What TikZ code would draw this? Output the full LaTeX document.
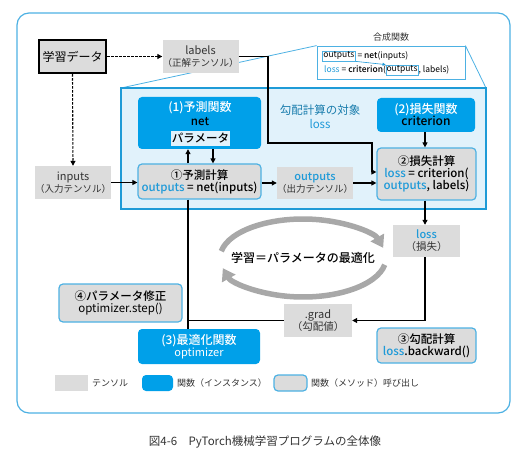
\documentclass[tikz,border=0pt]{standalone}
\usepackage{fontspec}
\setmainfont{Noto Sans CJK JP}[BoldFont={Noto Sans CJK JP Medium}]
\usetikzlibrary{arrows.meta}
\definecolor{fblue}{HTML}{00A0E9}
\definecolor{lblue}{HTML}{4DB1E3}
\definecolor{areafill}{HTML}{E1F2FB}
\definecolor{areaborder}{HTML}{1E9BD7}
\definecolor{tgray}{HTML}{DCDCDC}
\definecolor{tblue}{HTML}{1F9AD8}
\definecolor{cgray}{HTML}{A8A8A8}
\definecolor{txt}{HTML}{333333}
\newcommand\myfs[2]{\fontsize{#1}{#2}\selectfont}
\newcommand\bl[1]{\textcolor{tblue}{#1}}
\tikzset{
  tensor/.style={fill=tgray, inner sep=0pt, align=center, text=txt, font=\myfs{11}{13}},
  func/.style={fill=fblue, rounded corners=4pt, inner sep=0pt},
  call/.style={fill=tgray, draw=lblue, line width=1.2pt, rounded corners=4pt, inner sep=0pt, align=center, font=\myfs{11.5}{14}\bfseries},
  arr/.style={-{Triangle[length=5pt,width=5pt]}, line width=1.1pt},
  cyc/.style={-{Triangle[length=12pt,width=15pt]}, line width=5.5pt, cgray},
  plain/.style={inner sep=0pt, align=center},
  cbox/.style={draw=lblue, line width=0.8pt, inner sep=1pt, font=\myfs{8.5}{10}, minimum height=10pt},
}
\begin{document}
\begin{tikzpicture}[x=1pt,y=-1pt]
\useasboundingbox (0,0) rectangle (521,454);
% outer frame
\draw[lblue, line width=1.2pt, rounded corners=12pt] (17,13) rectangle (510,413);
% callout lines and box
\coordinate (clA) at (121,88);
\coordinate (clB) at (486,88);
\node[draw=lblue, fill=white, line width=0.8pt, minimum width=148pt, minimum height=33pt, inner sep=0pt] (comp) at (391,62.5) {};
\draw[lblue, line width=0.8pt] (clA) -- (comp.north west);
\draw[lblue, line width=0.8pt] (clB) -- (comp.north east);
\node[plain, font=\myfs{9}{10}, text=txt] (comptitle) at (391,37) {合成関数};
\node[cbox, anchor=west] (o1) at (322,56) {outputs};
\node[plain, anchor=west, font=\myfs{8.5}{10}] (l1) at ([xshift=1.5pt]o1.east) {= \textbf{net}(inputs)};
\node[plain, anchor=west, font=\myfs{8.5}{10}] (l2a) at (324,70) {\bl{loss} = \textbf{criterion}(};
\node[cbox, anchor=west, inner sep=0.5pt] (o2) at ([xshift=-0.5pt]l2a.east) {outputs};
\node[plain, anchor=west, font=\myfs{8.5}{10}] (l2b) at (o2.east) {, labels)};
\draw[tblue, line width=0.6pt, -{Triangle[length=3pt,width=3pt]}] (o1.south east) -- (o2.north west);
% inner area
\draw[areaborder, fill=areafill, line width=1.8pt] (clA) rectangle (486,209);
% top-left nodes
\node[fill=tgray, draw=black, line width=2.5pt, minimum width=67pt, minimum height=33pt, inner sep=0pt, font=\myfs{12}{14}] (data) at (72.5,56.5) {学習データ};
\node[tensor, minimum width=67pt, minimum height=33pt] (labels) at (200.5,56.5) {labels\\[-1pt]{\myfs{9.5}{11}（正解テンソル）}};
\node[tensor, minimum width=68pt, minimum height=33pt] (inputs) at (73,182.5) {inputs\\[-1pt]{\myfs{9.5}{11}（入力テンソル）}};
\draw[arr, dashed, dash pattern=on 2.5pt off 1.5pt] (data.east) -- (labels.west);
\draw[arr, dashed, dash pattern=on 2.5pt off 1.5pt] (data.south) -- (inputs.north);
% net
\node[func, minimum width=123pt, minimum height=52pt] (net) at (199.5,123) {};
\node[plain, text=white, font=\myfs{12}{14}\bfseries] (nettitle) at (200,108) {(1)予測関数};
\node[plain, font=\myfs{11.5}{13}\bfseries] (netname) at (200,121.5) {net};
\node[fill=areafill, minimum width=59pt, minimum height=15pt, inner sep=0pt, font=\myfs{11.5}{13}\bfseries] (param) at (200.5,138.5) {パラメータ};
% prediction
\node[call, minimum width=123pt, minimum height=35pt] (pred) at (199.5,181.5) {①予測計算\\[-2pt]\bl{outputs} = net(inputs)};
\coordinate (upx) at (188,0);
\coordinate (dnx) at (213,0);
\draw[arr] (pred.north -| upx) -- (net.south -| upx);
\draw[arr] (net.south -| dnx) -- (pred.north -| dnx);
\draw[arr] (inputs.east) -- (inputs.east -| pred.west);
% outputs
\node[tensor, minimum width=68pt, minimum height=32pt] (outputs) at (315,183) {\textbf{\bl{outputs}}\\[-1pt]{\myfs{9.5}{11}（出力テンソル）}};
\draw[arr] (pred.east |- outputs.west) -- (outputs.west);
% criterion
\node[func, minimum width=98pt, minimum height=34pt, align=center, font=\myfs{12}{14}\bfseries] (crit) at (426,115) {\textcolor{white}{(2)損失関数}\\[-2pt]criterion};
\node[call, minimum width=99pt, minimum height=52pt] (loss2) at (426.5,174) {②損失計算\\[-2pt]\bl{loss} = criterion(\\[-2pt]\bl{outputs}, labels)};
\coordinate (cx) at (425,0);
\draw[arr] (crit.south -| cx) -- (loss2.north -| cx);
\draw[arr] (outputs.east) -- (outputs.east -| loss2.west);
\draw[arr] (labels.east) -- (268,56.5) -- (268,143) -- (372,143) -- (372,172) -- (372,172 -| loss2.west);
% target text
\node[plain, font=\myfs{11.5}{13}, text=areaborder!80!black] (target) at (320,110) {勾配計算の対象};
\node[plain, font=\myfs{11.5}{13}, text=tblue] (targetloss) at (320,123.5) {loss};
% loss tensor
\node[tensor, minimum width=67pt, minimum height=32pt] (lossT) at (426.5,241) {\textbf{\bl{loss}}\\[-1pt]{\myfs{10.5}{12}（損失）}};
\draw[arr] (loss2.south -| cx) -- (lossT.north -| cx);
% grad
\node[tensor, minimum width=68pt, minimum height=33pt] (grad) at (318,320.5) {.grad\\[-1pt]{\myfs{10.5}{12}（勾配値）}};
\draw[arr] (lossT.south -| cx) -- (cx |- grad.east) -- (grad.east);
% optimizer
\node[func, minimum width=122pt, minimum height=35pt, align=center, text=white, font=\myfs{12}{14}\bfseries] (opt) at (199,346.5) {(3)最適化関数\\[-2pt]{\myfs{11}{13}\mdseries optimizer}};
\draw[line width=1.1pt] (pred.south -| upx) -- (opt.north -| upx);
\draw[line width=1.1pt] (grad.west) -- (grad.west -| upx);
% step
\node[call, minimum width=123pt, minimum height=38pt] (step4) at (120.5,303) {④パラメータ修正\\[-2pt]{\mdseries optimizer.step()}};
% backward
\node[call, minimum width=99pt, minimum height=35pt] (back) at (426.5,345.5) {③勾配計算\\[-2pt]\bl{loss}.backward()};
% cycle
\coordinate (cc) at (303,258);
\draw[cyc] (cc) ++(190:83 and 39) arc[start angle=190, end angle=345, x radius=83, y radius=39];
\draw[cyc] (cc) ++(10:83 and 39) arc[start angle=10, end angle=165, x radius=83, y radius=39];
\node[plain, font=\myfs{12}{14}\bfseries] (cyctext) at (cc) {学習＝パラメータの最適化};
% legend
\node[fill=tgray, minimum width=33pt, minimum height=16pt, inner sep=0pt] (lg1) at (71.5,383) {};
\node[plain, anchor=west, font=\myfs{9}{10}, text=txt] (lg1t) at (92,383) {テンソル};
\node[func, minimum width=31pt, minimum height=16pt] (lg2) at (157.5,383) {};
\node[plain, anchor=west, font=\myfs{9}{10}, text=txt] (lg2t) at (177,383) {関数（インスタンス）};
\node[call, minimum width=33pt, minimum height=16pt] (lg3) at (290.5,383) {};
\node[plain, anchor=west, font=\myfs{9}{10}, text=txt] (lg3t) at (311,383) {関数（メソッド）呼び出し};
% caption
\node[plain, font=\myfs{11.5}{13}, text=txt] (caption) at (265,442) {図4-6　PyTorch機械学習プログラムの全体像};
\end{tikzpicture}
\end{document}
